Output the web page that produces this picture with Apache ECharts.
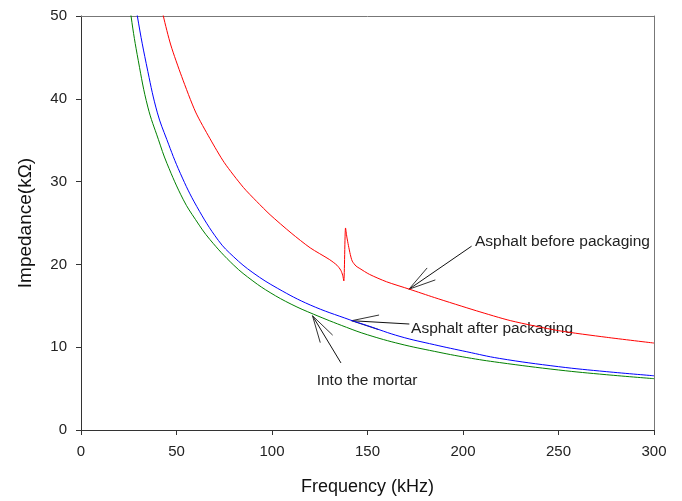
<!DOCTYPE html>
<html><head><meta charset="utf-8">
<script src="https://cdn.jsdelivr.net/npm/echarts@6/dist/echarts.min.js"></script>
<style>html,body{margin:0;padding:0;background:#fff}#c{width:682px;height:501px}</style>
</head><body><div id="c"></div>
<script>
// Frequency (kHz) and impedance (kΩ)
const freqBefore = [40, 43.1, 47, 52.7, 60, 67.5, 75, 85, 92, 99, 110, 120, 130, 134, 136, 137, 137.6, 138.5, 139.2, 140, 141, 142, 144, 146, 151, 160, 172, 185, 207, 225, 250, 275, 300];
const zBefore    = [53.5, 50, 46.5, 42.7, 38.4, 35.2, 32.3, 29.3, 27.6, 26.0, 23.8, 22.0, 20.6, 19.9, 19.3, 18.7, 18.0, 24.4, 23.3, 22.3, 21.2, 20.4, 19.8, 19.5, 18.8, 17.9, 17.0, 16.0, 14.4, 13.2, 12.0, 11.2, 10.5];

const freqAfter = [28, 29.5, 35, 40, 44.9, 52, 60.6, 71.9, 80, 90, 103, 120, 140.8, 150, 167, 185, 202, 219, 250, 275, 300];
const zAfter    = [53, 50, 43.3, 38.3, 35.1, 31.0, 27.0, 22.9, 20.9, 19.0, 17.1, 15.1, 13.3, 12.6, 11.3, 10.3, 9.45, 8.65, 7.65, 7.05, 6.55];

const freqMortar = [25, 26.2, 30, 35, 40.5, 45, 53.6, 60, 67.5, 80, 90, 99, 110, 121.6, 139, 150, 167, 185, 202, 219, 250, 275, 300];
const zMortar    = [53, 50, 44.6, 39, 35.1, 32.2, 27.8, 25.4, 23.0, 19.9, 18.0, 16.6, 15.2, 14.0, 12.4, 11.5, 10.4, 9.5, 8.75, 8.15, 7.25, 6.68, 6.2];

const xTicks = [0, 50, 100, 150, 200, 250, 300];
const yTicks = [0, 10, 20, 30, 40, 50];

const annTexts = ['Asphalt before packaging', 'Asphalt after packaging', 'Into the mortar'];
const annTip   = [[171.7, 17.0], [141.7, 13.2], [121.2, 13.8]];
const annTail  = [[204.5, 22.2], [171.9, 12.8], [136.1, 8.1]];
const annLabel = [[206.3, 22.7], [172.8, 12.2], [123.4, 5.97]];

const zip = (a, b) => a.map((v, i) => [v, b[i]]);
const FONT = '"Liberation Sans", Arial, sans-serif';

const chart = echarts.init(document.getElementById('c'), null, {renderer: 'canvas'});
const baseAxis = (extra) => Object.assign({
  type: 'value',
  splitLine: {show: false},
  axisLine: {show: true, lineStyle: {color: '#333', width: 1}},
  axisTick: {show: true, inside: false, length: 5, lineStyle: {color: '#333'}},
  axisLabel: {fontFamily: FONT, fontSize: 15, color: '#222'}
}, extra);

chart.setOption({
  animation: false,
  backgroundColor: '#fff',
  grid: {left: 81, right: 28, top: 16, bottom: 70, containLabel: false},
  xAxis: [
    baseAxis({min: xTicks[0], max: xTicks[xTicks.length - 1], interval: xTicks[1] - xTicks[0],
      name: 'Frequency (kHz)', nameLocation: 'middle', nameGap: 48,
      nameTextStyle: {fontFamily: FONT, fontSize: 18, color: '#111'},
      axisLabel: {fontFamily: FONT, fontSize: 15, color: '#222', margin: 14}}),
    {type: 'value', position: 'top', min: xTicks[0], max: xTicks[xTicks.length - 1],
      axisLine: {show: true, onZero: false, lineStyle: {color: '#777'}}, axisTick: {show: false},
      axisLabel: {show: false}, splitLine: {show: false}}
  ],
  yAxis: [
    baseAxis({min: yTicks[0], max: yTicks[yTicks.length - 1], interval: yTicks[1] - yTicks[0],
      name: 'Impedance(kΩ)', nameLocation: 'middle', nameGap: 46,
      nameTextStyle: {fontFamily: FONT, fontSize: 19, color: '#111'},
      axisLabel: {fontFamily: FONT, fontSize: 15, color: '#222', margin: 14}}),
    {type: 'value', position: 'right', min: yTicks[0], max: yTicks[yTicks.length - 1],
      axisLine: {show: true, onZero: false, lineStyle: {color: '#777'}}, axisTick: {show: false},
      axisLabel: {show: false}, splitLine: {show: false}}
  ],
  series: [
    {name: 'Asphalt before packaging', type: 'line', data: zip(freqBefore, zBefore), showSymbol: false,
      smooth: 0.25, clip: true, lineStyle: {color: '#ff0000', width: 1}, itemStyle: {color: '#ff0000'}},
    {name: 'Asphalt after packaging', type: 'line', data: zip(freqAfter, zAfter), showSymbol: false,
      smooth: 0.4, clip: true, lineStyle: {color: '#0000ff', width: 1}, itemStyle: {color: '#0000ff'}},
    {name: 'Into the mortar', type: 'line', data: zip(freqMortar, zMortar), showSymbol: false,
      smooth: 0.4, clip: true, lineStyle: {color: '#008000', width: 1}, itemStyle: {color: '#008000'}}
  ]
});

// annotations with arrows, positioned in data coordinates
const elements = [];
const BARB = 28, ANG = 15 * Math.PI / 180;
annTexts.forEach((t, i) => {
  const tip = chart.convertToPixel({gridIndex: 0}, annTip[i]);
  const tail = chart.convertToPixel({gridIndex: 0}, annTail[i]);
  const lab = chart.convertToPixel({gridIndex: 0}, annLabel[i]);
  const a = Math.atan2(tail[1] - tip[1], tail[0] - tip[0]);
  elements.push({type: 'line', shape: {x1: tip[0], y1: tip[1], x2: tail[0], y2: tail[1]},
    style: {stroke: '#111', lineWidth: 1}, silent: true});
  [a + ANG, a - ANG].forEach(b => {
    elements.push({type: 'line', shape: {x1: tip[0], y1: tip[1], x2: tip[0] + BARB * Math.cos(b), y2: tip[1] + BARB * Math.sin(b)},
      style: {stroke: '#333', lineWidth: 1}, silent: true});
  });
  elements.push({type: 'text', x: lab[0], y: lab[1], silent: true,
    style: {text: t, fontFamily: FONT, fontSize: 15.5, fill: '#222', align: 'left', verticalAlign: 'middle'}});
});
chart.setOption({graphic: elements});
</script>
</body></html>
